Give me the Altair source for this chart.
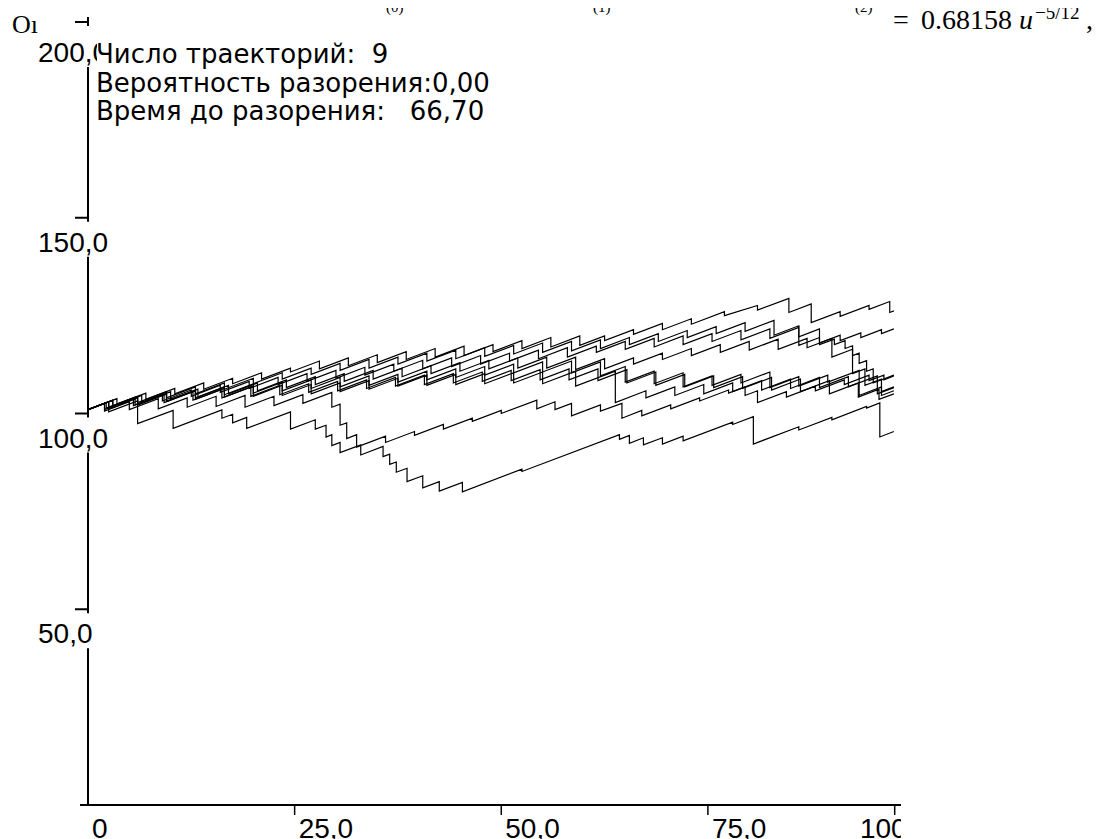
import altair as alt
import pandas as pd

# ---------------- data ----------------
# Each simulated path starts at START_VALUE, rises between claims and drops at every claim.
# For every claim: time, value just before it, value just after it.
START_VALUE = 101.0
END_TIME = 97.5

p1_t = [3.5, 7, 10.5, 14, 17.5, 21, 24.5, 28, 31.5, 35, 38.5, 42, 45.5, 49, 52.5, 56, 59.5, 62.5, 66, 69.5, 73, 77, 81, 84.8, 87.5, 91, 94.5, 97]
p1_b = [103.8, 105.2, 106.4, 107.8, 109.0, 110.4, 111.6, 113.4, 114.2, 115.0, 115.8, 116.6, 117.2, 117.6, 118.6, 119.4, 119.8, 119.8, 121.4, 123.0, 124.2, 126.0, 127.6, 129.4, 128.0, 126.0, 127.6, 128.6]
p1_a = [102.4, 103.6, 105.0, 106.2, 107.6, 108.8, 110.6, 111.4, 112.2, 113.0, 113.8, 114.4, 114.8, 115.8, 116.6, 117.0, 117.4, 118.6, 120.2, 121.4, 122.8, 125.0, 126.4, 125.8, 123.2, 124.8, 126.6, 125.8]
p1_end = 126.2

p2_t = [2.5, 6, 9.5, 13, 16.5, 20, 23.5, 27, 30.5, 34, 37.5, 41, 44.5, 48, 51.5, 55, 58.5, 62, 65.5, 69, 72.5, 76, 79.5, 83, 86, 88.5, 91, 93.5, 96]
p2_b = [103.0, 104.4, 105.6, 106.8, 107.8, 109.0, 110.4, 111.6, 112.8, 113.8, 114.4, 115.4, 116.2, 116.8, 117.4, 118.0, 118.4, 118.8, 119.4, 120.4, 121.2, 122.2, 123.2, 123.8, 122.4, 119.4, 120.0, 120.6, 121.4]
p2_a = [101.6, 102.8, 104.0, 105.0, 106.2, 107.6, 108.8, 110.0, 111.0, 111.6, 112.6, 113.4, 114.0, 114.6, 115.2, 115.6, 116.0, 116.6, 117.6, 118.4, 119.4, 120.4, 121.0, 120.0, 117.4, 118.0, 118.6, 119.4, 120.4]
p2_end = 121.6

p3_t = [2, 5.5, 9, 12.5, 16, 19.5, 23, 26.5, 30, 33.5, 37, 40.5, 44, 47.5, 51, 54.5, 58, 61.5, 65, 68.5, 72, 75.5, 79, 82.5, 86, 88.5, 90.3, 91.6, 92.5, 93.3, 94.2, 95.0]
p3_b = [102.6, 103.8, 104.8, 106.0, 107.2, 108.2, 109.2, 110.2, 111.0, 111.8, 112.6, 113.6, 114.2, 114.8, 115.4, 116.2, 116.8, 117.2, 118.4, 119.2, 119.8, 120.4, 121.2, 121.6, 122.0, 121.6, 119.0, 118.6, 117.3, 115.4, 113.5, 111.4]
p3_a = [101.0, 102.0, 103.2, 104.4, 105.4, 106.4, 107.4, 108.2, 109.0, 109.8, 110.8, 111.4, 112.0, 112.6, 113.4, 114.0, 114.4, 115.6, 116.4, 117.0, 117.6, 118.4, 118.8, 119.2, 119.6, 117.6, 117.6, 116.6, 114.8, 112.8, 110.8, 107.8]
p3_end = 109.8

p4_t = [3, 6.5, 10, 13.3, 17, 20.5, 24, 27.5, 31, 34.5, 38, 41.5, 45, 48.5, 52, 55.5, 59, 62.5, 66, 69.5, 73, 76.5, 80, 83.5, 87, 90, 92.5, 94, 96]
p4_b = [103.4, 104.6, 105.6, 106.2, 107.2, 107.8, 108.6, 109.4, 110.2, 111.0, 111.6, 112.2, 113.0, 113.6, 114.2, 114.4, 114.4, 114.0, 114.2, 115.4, 116.6, 117.6, 118.4, 119.0, 119.2, 119.2, 116.4, 111.4, 108.8]
p4_a = [101.8, 102.8, 103.6, 104.2, 105.0, 105.8, 106.6, 107.4, 108.2, 108.8, 109.4, 110.2, 110.8, 111.4, 111.6, 111.6, 111.2, 111.4, 112.6, 113.8, 114.8, 115.6, 116.2, 116.4, 116.8, 114.4, 110.2, 107.2, 105.6]
p4_end = 106.8

p5_t = [2.5, 6, 9.5, 13, 16.5, 20, 23.5, 27, 30.5, 34, 37.5, 41, 44.5, 48, 51.5, 55, 58.5, 62, 65, 68.5, 72, 75.5, 79, 82.5, 86, 89.5, 93.3, 96]
p5_b = [103.0, 104.0, 105.0, 106.0, 106.8, 107.6, 108.0, 108.6, 109.2, 109.6, 110.0, 110.8, 111.4, 112.0, 112.6, 113.2, 113.4, 113.2, 112.0, 110.8, 110.4, 109.6, 110.0, 110.6, 109.4, 109.8, 111.0, 106.8]
p5_a = [101.2, 102.2, 103.2, 104.0, 104.8, 105.2, 105.8, 106.4, 106.8, 107.2, 108.0, 108.6, 109.2, 109.8, 110.4, 110.6, 110.4, 109.6, 108.0, 107.6, 106.8, 107.2, 107.8, 106.6, 107.0, 108.0, 104.6, 104.6]
p5_end = 105.8

p6_t = [2.2, 5.7, 9.2, 12.7, 16.2, 19.7, 23.2, 26.7, 30.2, 33.7, 37.2, 40.7, 44.2, 47.7, 51.2, 54.7, 58.2, 61.7, 65.2, 68.7, 72.2, 75.7, 79.2, 82.7, 86.2, 89.7, 93.2, 95.7]
p6_b = [102.8, 104.2, 105.0, 105.6, 106.2, 106.8, 107.2, 107.6, 108.2, 108.6, 109.2, 109.8, 110.2, 110.6, 111.0, 111.2, 111.4, 111.4, 111.2, 110.6, 110.0, 109.6, 109.4, 109.2, 108.8, 108.4, 107.8, 106.2]
p6_a = [101.4, 102.2, 102.8, 103.4, 104.0, 104.4, 104.8, 105.4, 105.8, 106.4, 107.0, 107.4, 107.8, 108.2, 108.4, 108.6, 108.6, 108.4, 107.8, 107.2, 106.8, 106.6, 106.4, 106.0, 105.6, 105.0, 104.2, 103.6]
p6_end = 105.0

p7_t = [3, 6, 9.5, 13, 16.5, 20, 23.5, 27, 30.5, 34, 37.5, 41, 44.5, 48, 51.5, 55, 59, 63.8, 67.5, 71, 74.5, 78, 81.5, 85, 88.5, 92, 95.5]
p7_b = [103.4, 104.0, 105.0, 105.8, 106.4, 107.0, 107.2, 107.4, 107.8, 108.4, 109.0, 109.8, 110.0, 110.2, 110.4, 110.6, 110.8, 110.8, 105.8, 106.8, 107.4, 107.8, 108.4, 108.8, 109.2, 109.4, 109.6]
p7_a = [101.6, 102.2, 103.0, 103.6, 104.2, 104.4, 104.6, 105.0, 105.6, 106.2, 107.0, 107.2, 107.4, 107.6, 107.8, 107.6, 107.0, 102.8, 104.0, 104.6, 105.0, 105.6, 106.0, 106.4, 106.6, 106.8, 105.0]
p7_end = 106.6

p8_t = [2, 5, 8.5, 12, 15.5, 19, 22.5, 26, 29.5, 30.5, 31.3, 32.5, 36, 39.5, 43, 46.5, 50, 54.3, 56.5, 58.5, 62, 64.6, 67, 70.5, 74, 77.5, 79.5, 81, 84.5, 88, 91.5, 94.5, 96.3]
p8_b = [102.6, 103.0, 103.8, 104.0, 104.4, 104.6, 104.4, 104.8, 105.4, 102.4, 97.6, 94.6, 94.2, 95.4, 97.2, 98.8, 100.8, 103.4, 103.0, 102.6, 102.2, 102.6, 100.8, 102.2, 104.0, 106.0, 106.8, 105.8, 105.6, 107.0, 108.6, 109.8, 109.8]
p8_a = [100.6, 101.0, 101.2, 101.6, 101.8, 101.6, 102.0, 102.6, 101.6, 97.0, 93.6, 91.4, 92.6, 94.4, 96.0, 98.0, 100.0, 101.2, 101.0, 99.4, 100.6, 98.8, 99.4, 101.2, 103.2, 105.2, 104.6, 102.8, 104.2, 105.8, 107.4, 108.4, 108.6]
p8_end = 109.6

p9_t = [2.5, 6, 10.3, 16.2, 17.5, 19.2, 24.5, 27.5, 28.8, 29.5, 30.5, 33, 35.7, 36.5, 37.3, 38.6, 40.5, 42.5, 45.3, 52.5, 64.3, 65.5, 67.2, 69.5, 72, 78, 80.5, 86, 90, 94.2, 95.8]
p9_b = [103.0, 103.2, 100.8, 100.9, 99.8, 99.0, 100.4, 98.4, 97.0, 94.6, 92.6, 92.0, 91.6, 89.6, 87.6, 86.0, 84.1, 82.6, 82.4, 85.8, 94.6, 94.4, 93.8, 93.8, 94.2, 97.8, 99.2, 96.6, 99.0, 101.8, 102.7]
p9_a = [100.4, 97.4, 96.2, 98.8, 97.6, 96.2, 96.0, 96.0, 94.0, 91.8, 90.0, 89.4, 89.0, 87.0, 85.0, 82.6, 81.0, 80.2, 80.0, 85.2, 93.4, 92.4, 92.0, 92.2, 93.0, 97.2, 92.2, 95.8, 98.4, 101.4, 94.0]
p9_end = 95.4

y_tick_values = [50, 100, 150, 200]
y_tick_labels = ["50,0", "100,0", "150,0", "200,0"]
x_tick_values = [0, 25, 50, 75, 97.6]
x_tick_labels = ["0", "25,0", "50,0", "75,0", "100"]

info_lines = [
    "Число траекторий:\u00a0\u00a09",
    "Вероятность разорения:0,00",
    "Время до разорения:\u00a0\u00a0\u00a066,70",
]

# ---------------- assemble the path table ----------------
paths = {
    "1": (p1_t, p1_b, p1_a, p1_end),
    "2": (p2_t, p2_b, p2_a, p2_end),
    "3": (p3_t, p3_b, p3_a, p3_end),
    "4": (p4_t, p4_b, p4_a, p4_end),
    "5": (p5_t, p5_b, p5_a, p5_end),
    "6": (p6_t, p6_b, p6_a, p6_end),
    "7": (p7_t, p7_b, p7_a, p7_end),
    "8": (p8_t, p8_b, p8_a, p8_end),
    "9": (p9_t, p9_b, p9_a, p9_end),
}
rows = []
for name, (jt, jb, ja, vend) in paths.items():
    pts = [(0.0, START_VALUE)]
    for t, b, a in zip(jt, jb, ja):
        pts.append((t, b))
        pts.append((t, a))
    pts.append((END_TIME, vend))
    for i, (t, v) in enumerate(pts):
        rows.append({"traj": name, "i": i, "t": t, "v": v})
df = pd.DataFrame(rows)

ydf = pd.DataFrame({"v": y_tick_values, "label": y_tick_labels})
xdf = pd.DataFrame({"t": x_tick_values, "label": x_tick_labels})
one = pd.DataFrame({"k": [0]})

W, H = 810, 783
xs = alt.Scale(domain=[0, 98], nice=False, zero=False)
ys = alt.Scale(domain=[0, 200], nice=False, zero=False)

LBL_FONT = "Liberation Sans"
LBL_SIZE = 28
INFO_FONT = "DejaVu Sans"
SERIF = "Liberation Serif"

# axis lines
y_axis = alt.Chart(one).mark_rule(color="black", strokeWidth=2, y2Offset=-5).encode(
    x=alt.X(datum=0, type="quantitative", scale=xs, axis=None),
    y=alt.Y(datum=0, type="quantitative", scale=ys, axis=None),
    y2=alt.Y2(datum=200),
)
x_axis = alt.Chart(one).mark_rule(color="black", strokeWidth=2, xOffset=-8, x2Offset=3).encode(
    x=alt.X(datum=0, type="quantitative", scale=xs, axis=None),
    x2=alt.X2(datum=98),
    y=alt.Y(datum=0, type="quantitative", scale=ys, axis=None),
)

# ticks
y_ticks = alt.Chart(ydf).mark_rule(color="black", strokeWidth=2).encode(
    y=alt.Y("v:Q", scale=ys, axis=None),
    x=alt.value(-13),
    x2=alt.value(0),
)
x_ticks = alt.Chart(xdf).transform_filter("datum.t > 0").mark_rule(color="black", strokeWidth=1.5).encode(
    x=alt.X("t:Q", scale=xs, axis=None),
    y=alt.value(H - 1),
    y2=alt.value(H + 10),
)

# y labels with their white background (breaks the axis line)
def y_label_layers(filter_expr, dy):
    bg = alt.Chart(ydf).transform_filter(filter_expr).mark_rect(
        color="white", yOffset=4, y2Offset=dy + 5
    ).encode(
        y=alt.Y("v:Q", scale=ys, axis=None),
        y2=alt.Y2("v"),
        x=alt.value(-52),
        x2=alt.value(20),
    )
    txt = alt.Chart(ydf).transform_filter(filter_expr).mark_text(
        align="left", baseline="alphabetic", dy=dy, font=LBL_FONT, fontSize=LBL_SIZE, color="black"
    ).encode(
        y=alt.Y("v:Q", scale=ys, axis=None),
        x=alt.value(-50),
        text="label:N",
    )
    return [bg, txt]

y_lbl_lower = y_label_layers("datum.v < 200", 34)
y_lbl_top = y_label_layers("datum.v >= 200", 40)

# x labels
x_lbl = alt.Chart(xdf).transform_filter("datum.t < 90").mark_text(
    align="left", baseline="alphabetic", dx=4, font=LBL_FONT, fontSize=LBL_SIZE, color="black"
).encode(
    x=alt.X("t:Q", scale=xs, axis=None),
    y=alt.value(816),
    text="label:N",
)
x_lbl_last = alt.Chart(xdf).transform_filter("datum.t > 90").mark_text(
    align="right", baseline="alphabetic", dx=12, font=LBL_FONT, fontSize=LBL_SIZE, color="black"
).encode(
    x=alt.X("t:Q", scale=xs, axis=None),
    y=alt.value(816),
    text="label:N",
)
x_clip = alt.Chart(one).mark_rect(color="white").encode(
    x=alt.value(813), x2=alt.value(900), y=alt.value(H + 2), y2=alt.value(H + 60)
)

# trajectories
traj = alt.Chart(df).mark_line(color="black", strokeWidth=1.2).encode(
    x=alt.X("t:Q", scale=xs, axis=None),
    y=alt.Y("v:Q", scale=ys, axis=None),
    detail="traj:N",
    order="i:Q",
)

# info box
info_bg = alt.Chart(one).mark_rect(color="white").encode(
    x=alt.value(9), x2=alt.value(430), y=alt.value(14), y2=alt.value(106)
)
info = alt.Chart(one).mark_text(
    text=info_lines, align="left", baseline="alphabetic", font=INFO_FONT,
    fontSize=26, lineHeight=28.5, color="black"
).encode(x=alt.value(8), y=alt.value(41))

# page fragments around the picture
frag_left = alt.Chart(one).mark_text(
    text="O\u0131", align="left", baseline="alphabetic", font=SERIF, fontSize=26, color="black"
).encode(x=alt.value(-76), y=alt.value(11))
eq1 = alt.Chart(one).mark_text(
    text="=", align="left", baseline="alphabetic", font=SERIF, fontSize=28, color="black"
).encode(x=alt.value(805), y=alt.value(7))
eq2 = alt.Chart(one).mark_text(
    text="0.68158", align="left", baseline="alphabetic", font=SERIF, fontSize=28, color="black"
).encode(x=alt.value(833), y=alt.value(7))
eq3 = alt.Chart(one).mark_text(
    text="u", align="left", baseline="alphabetic", font=SERIF, fontSize=28, fontStyle="italic", color="black"
).encode(x=alt.value(931), y=alt.value(7))
eq4 = alt.Chart(one).mark_text(
    text="\u22125/12", align="left", baseline="alphabetic", font=SERIF, fontSize=19, color="black"
).encode(x=alt.value(947), y=alt.value(-3))
eq5 = alt.Chart(one).mark_text(
    text=",", align="left", baseline="alphabetic", font=SERIF, fontSize=28, color="black"
).encode(x=alt.value(998), y=alt.value(7))
sup_frags = [
    alt.Chart(one).mark_text(
        text=s, align="left", baseline="alphabetic", font=SERIF, fontSize=15, color="black"
    ).encode(x=alt.value(xv), y=alt.value(-10))
    for s, xv in [("(0)", 298), ("(1)", 505), ("(2)", 767)]
]

chart = alt.layer(
    y_axis, x_axis, y_ticks, x_ticks, *y_lbl_lower, *y_lbl_top, x_lbl, x_lbl_last, x_clip,
    traj, info_bg, info, frag_left, eq1, eq2, eq3, eq4, eq5, *sup_frags,
).properties(
    width=W,
    height=H,
    padding={"left": 80, "top": 14, "right": 197, "bottom": 40},
    autosize=alt.AutoSizeParams(type="none"),
    background="white",
).configure_view(stroke=None)

chart.save("out.html", embed_options={"renderer": "svg", "actions": False})
